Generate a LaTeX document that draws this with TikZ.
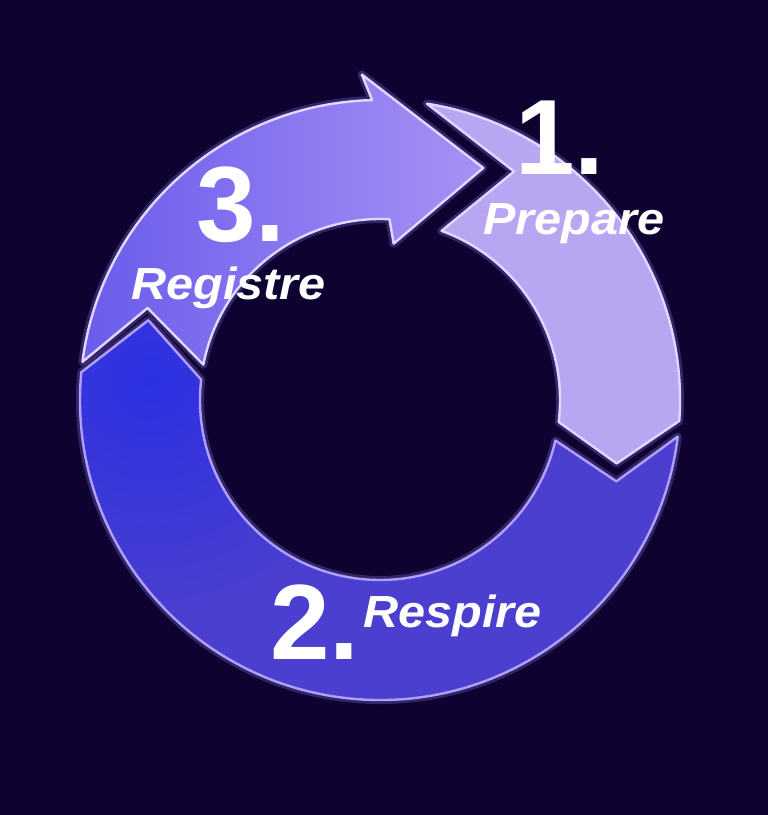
\documentclass[tikz,border=0pt]{standalone}
\usepackage{fontspec}
\setmainfont{Liberation Sans}
\begin{document}
\begin{tikzpicture}[x=1pt,y=1pt]
\definecolor{bg}{HTML}{0D0230}
\definecolor{lav}{HTML}{B9A6F3}
\definecolor{lavb}{HTML}{E2D8FF}
\definecolor{midL}{HTML}{6A5CEC}
\definecolor{midR}{HTML}{A791F4}
\definecolor{dk}{HTML}{4A3FCF}
\definecolor{dkb}{HTML}{2C30E2}
\definecolor{edge}{HTML}{B0A0FA}
\definecolor{halo}{HTML}{8E78F0}
\tikzset{
  glow/.style={draw=halo, line width=8pt, opacity=0.3, line join=round},
  rim/.style={draw=#1, line width=2.4pt, line join=round},
  num/.style={text=white, font=\bfseries\fontsize{107}{107}\selectfont, inner sep=0pt, anchor=base west},
  word/.style={text=white, font=\bfseries\itshape\fontsize{45}{45}\selectfont\addfontfeature{FakeStretch=1.08}, inner sep=0pt, anchor=base west}
}
\fill[bg] (0,0) rectangle (768,815);
\useasboundingbox (0,0) rectangle (768,815);
\begin{scope}[shift={(380,415)}]
% arrow 2 (bottom, dark blue)
\def\pathtwo{(-7:300) arc[start angle=-7, end angle=-185.3, radius=300]
  -- (161:245) -- (173.5:180)
  arc[start angle=173.5, end angle=347, radius=180]
  -- (-19:250) -- cycle}
\path[glow] \pathtwo;
\fill[dk] \pathtwo;
\begin{scope}
\clip \pathtwo;
\shade[inner color=dkb, outer color=dk] (-470,-220) rectangle (10,260);
\end{scope}
\path[rim=edge] \pathtwo;
% arrow 1 (right, light)
\def\pathone{(81:300) arc[start angle=81, end angle=-4, radius=300]
  -- (-15:245) -- (-7:180)
  arc[start angle=-7, end angle=70, radius=180]
  -- (59.6:265) -- cycle}
\path[glow] \pathone;
\path[fill=lav, rim=lavb] \pathone;
% arrow 3 (top-left, medium)
\def\paththree{(172.7:300) arc[start angle=172.7, end angle=91.5, radius=300]
  -- (93.2:326) -- (66:254) -- (85:157) -- (87:181)
  arc[start angle=87, end angle=169, radius=180]
  -- (158.4:250) -- cycle}
\path[glow] \paththree;
\path[left color=midL, right color=midR, rim=lavb] \paththree;
\end{scope}
% labels
\node[num] (n1) at (515,640) {1.};
\node[word] (w1) at (483,580) {Prepare};
\node[num] (n3) at (196,573) {3.};
\node[word] (w3) at (131,515) {Registre};
\node[num] (n2) at (270,155) {2.};
\node[word] (w2) at (363,187) {Respire};
\end{tikzpicture}
\end{document}
